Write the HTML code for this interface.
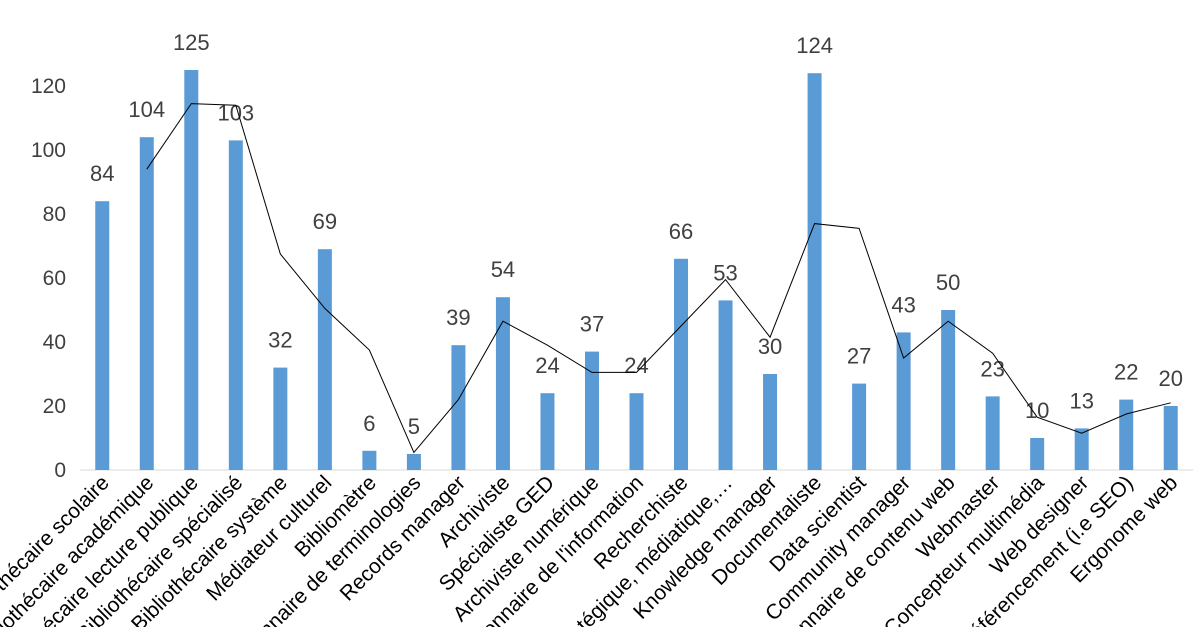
<!DOCTYPE html>
<html><head><meta charset="utf-8"><style>
html,body{margin:0;padding:0;background:#fff;overflow:hidden;width:1200px;height:627px}
svg{display:block;font-family:"Liberation Sans",Calibri,sans-serif;overflow:hidden}
</style></head><body>
<svg id="chart" width="1200" height="627"></svg>
<script>
const categories=["Bibliothécaire scolaire","Bibliothécaire académique","Bibliothécaire lecture publique","Bibliothécaire spécialisé","Bibliothécaire système","Médiateur culturel","Bibliomètre","Gestionnaire de terminologies","Records manager","Archiviste","Spécialiste GED","Archiviste numérique","Gestionnaire de l'information","Recherchiste","Veille stratégique, médiatique,…","Knowledge manager","Documentaliste","Data scientist","Community manager","Gestionnaire de contenu web","Webmaster","Concepteur multimédia","Web designer","Référencement (i.e SEO)","Ergonome web"];
const values=[84,104,125,103,32,69,6,5,39,54,24,37,24,66,53,30,124,27,43,50,23,10,13,22,20];
const yTicks=[0,20,40,60,80,100,120];
const NS="http://www.w3.org/2000/svg";
const svg=document.getElementById('chart');
const x0=80,x1=1193,y0=470,pxPerUnit=3.2;
const band=(x1-x0)/categories.length;
const xc=i=>x0+band*(i+0.5);
const y=v=>y0-v*pxPerUnit;
function mk(tag,attrs,parent){const e=document.createElementNS(NS,tag);for(const k in attrs)e.setAttribute(k,attrs[k]);(parent||svg).appendChild(e);return e;}
const axis=mk('line',{x1:x0,x2:x1,y1:y0,y2:y0,stroke:'#d9d9d9','stroke-width':1});


yTicks.forEach(t=>{const e=mk('text',{x:66,y:y(t)+7,'text-anchor':'end','font-size':21,fill:'#404040'});e.textContent=t;

});
values.forEach((v,i)=>{
const b=mk('rect',{x:xc(i)-7,y:y(v),width:14,height:v*pxPerUnit,fill:'#5b9bd5'});


const l=mk('text',{x:xc(i),y:y(v)-20,'text-anchor':'middle','font-size':22,fill:'#404040'});l.textContent=v;


const c=mk('text',{transform:`translate(${xc(i)+8},${y0+14}) rotate(-45)`,'text-anchor':'end','font-size':21,fill:'#000'});c.textContent=categories[i];


});
let pts=[];
for(let i=1;i<values.length;i++){pts.push(xc(i)+','+y((values[i]+values[i-1])/2));}
const line=mk('polyline',{points:pts.join(' '),fill:'none',stroke:'#000','stroke-width':1});


</script>
</body></html>
